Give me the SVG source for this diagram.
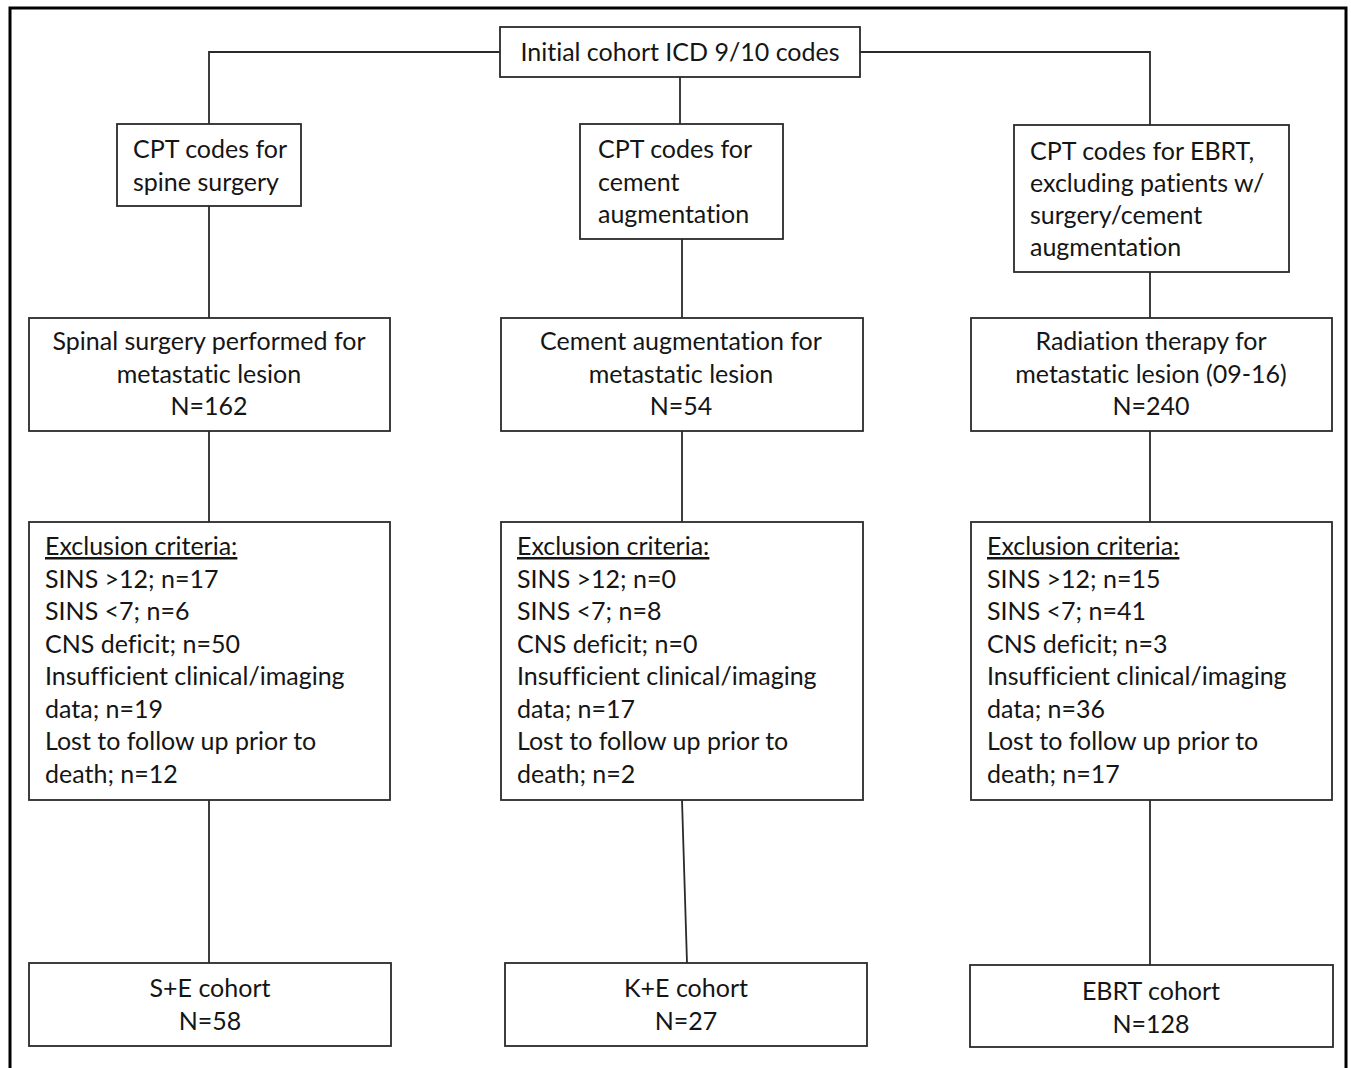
<svg xmlns="http://www.w3.org/2000/svg" width="1351" height="1068" viewBox="0 0 1351 1068">
<style>
.box{fill:#fff;stroke:#2a2a2a;stroke-width:1.8}
.t{font-family:Lato,"Open Sans","Liberation Sans",sans-serif;font-size:25px;fill:#151515;font-variant-ligatures:none}
.c{text-anchor:middle}
.u{text-decoration:underline}
.ln{fill:none;stroke:#2a2a2a;stroke-width:1.8}
</style>
<rect x="0" y="0" width="1351" height="1068" fill="#fff"/>
<rect x="10" y="8" width="1336" height="1090" fill="none" stroke="#000" stroke-width="3"/>
<g id="connectors">
<path class="ln" d="M500 52 H209 V124"/>
<path class="ln" d="M860 52 H1150 V125"/>
<path class="ln" d="M680 77 V124"/>
<path class="ln" d="M209 206 V318 M209 431 V522 M209 800 V963"/>
<path class="ln" d="M682 239 V318 M682 431 V522 M682 800 L687 963"/>
<path class="ln" d="M1150 272 V318 M1150 431 V522 M1150 800 V965"/>
</g>
<g id="n-initial"><rect class="box" x="500" y="27" width="360" height="50"/><text class="t c" x="680" y="61">Initial cohort ICD 9/10 codes</text></g>
<g id="n-cpt-spine"><rect class="box" x="117" y="124" width="184" height="82"/><text class="t" x="133" y="158">CPT codes for</text><text class="t" x="133" y="191">spine surgery</text></g>
<g id="n-cpt-cement"><rect class="box" x="580" y="124" width="203" height="115"/><text class="t" x="598" y="158">CPT codes for</text><text class="t" x="598" y="191">cement</text><text class="t" x="598" y="223">augmentation</text></g>
<g id="n-cpt-ebrt"><rect class="box" x="1014" y="125" width="275" height="147"/><text class="t" x="1030" y="160">CPT codes for EBRT,</text><text class="t" x="1030" y="192">excluding patients w/</text><text class="t" x="1030" y="224">surgery/cement</text><text class="t" x="1030" y="256">augmentation</text></g>
<g id="n-surgery"><rect class="box" x="29" y="318" width="361" height="113"/><text class="t c" x="209" y="350">Spinal surgery performed for</text><text class="t c" x="209" y="383">metastatic lesion</text><text class="t c" x="209" y="415">N=162</text></g>
<g id="n-cement"><rect class="box" x="501" y="318" width="362" height="113"/><text class="t c" x="681" y="350">Cement augmentation for</text><text class="t c" x="681" y="383">metastatic lesion</text><text class="t c" x="681" y="415">N=54</text></g>
<g id="n-radiation"><rect class="box" x="971" y="318" width="361" height="113"/><text class="t c" x="1151" y="350">Radiation therapy for</text><text class="t c" x="1151" y="383">metastatic lesion (09-16)</text><text class="t c" x="1151" y="415">N=240</text></g>
<g id="n-excl-surgery"><rect class="box" x="29" y="522" width="361" height="278"/>
<text class="t u" x="45" y="555">Exclusion criteria:</text>
<text class="t" x="45" y="587.5">SINS &gt;12; n=17</text>
<text class="t" x="45" y="620">SINS &lt;7; n=6</text>
<text class="t" x="45" y="652.5">CNS deficit; n=50</text>
<text class="t" x="45" y="685">Insufficient clinical/imaging</text>
<text class="t" x="45" y="717.5">data; n=19</text>
<text class="t" x="45" y="750">Lost to follow up prior to</text>
<text class="t" x="45" y="782.5">death; n=12</text></g>
<g id="n-excl-cement"><rect class="box" x="501" y="522" width="362" height="278"/>
<text class="t u" x="517" y="555">Exclusion criteria:</text>
<text class="t" x="517" y="587.5">SINS &gt;12; n=0</text>
<text class="t" x="517" y="620">SINS &lt;7; n=8</text>
<text class="t" x="517" y="652.5">CNS deficit; n=0</text>
<text class="t" x="517" y="685">Insufficient clinical/imaging</text>
<text class="t" x="517" y="717.5">data; n=17</text>
<text class="t" x="517" y="750">Lost to follow up prior to</text>
<text class="t" x="517" y="782.5">death; n=2</text></g>
<g id="n-excl-radiation"><rect class="box" x="971" y="522" width="361" height="278"/>
<text class="t u" x="987" y="555">Exclusion criteria:</text>
<text class="t" x="987" y="587.5">SINS &gt;12; n=15</text>
<text class="t" x="987" y="620">SINS &lt;7; n=41</text>
<text class="t" x="987" y="652.5">CNS deficit; n=3</text>
<text class="t" x="987" y="685">Insufficient clinical/imaging</text>
<text class="t" x="987" y="717.5">data; n=36</text>
<text class="t" x="987" y="750">Lost to follow up prior to</text>
<text class="t" x="987" y="782.5">death; n=17</text></g>
<g id="n-se"><rect class="box" x="29" y="963" width="362" height="83"/><text class="t c" x="210" y="997">S+E cohort</text><text class="t c" x="210" y="1030">N=58</text></g>
<g id="n-ke"><rect class="box" x="505" y="963" width="362" height="83"/><text class="t c" x="686" y="997">K+E cohort</text><text class="t c" x="686" y="1030">N=27</text></g>
<g id="n-ebrt"><rect class="box" x="970" y="965" width="363" height="82"/><text class="t c" x="1151" y="1000">EBRT cohort</text><text class="t c" x="1151" y="1033">N=128</text></g>
</svg>
